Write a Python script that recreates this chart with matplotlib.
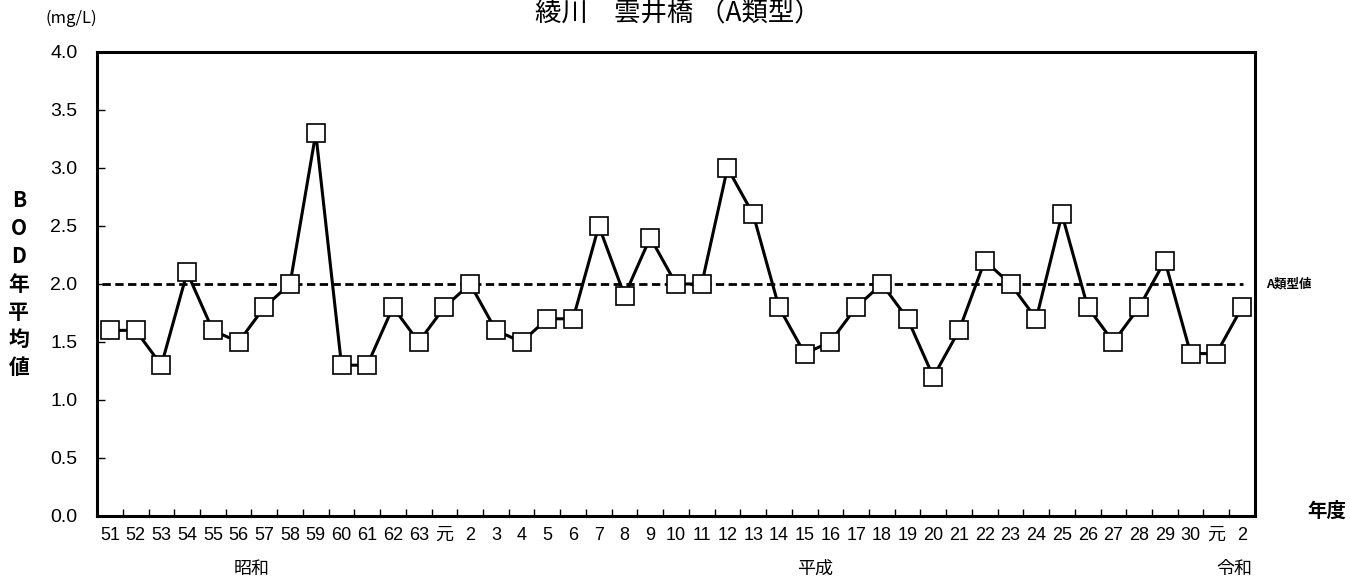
import numpy as np
import matplotlib.pyplot as plt

plt.rcParams['font.family'] = ['Liberation Sans', 'Noto Sans CJK JP']

# 年度ラベル（昭和51〜63、平成元〜30、令和元〜2）
years = ['51', '52', '53', '54', '55', '56', '57', '58', '59', '60', '61', '62', '63',
         '元', '2', '3', '4', '5', '6', '7', '8', '9', '10', '11', '12', '13', '14', '15',
         '16', '17', '18', '19', '20', '21', '22', '23', '24', '25', '26', '27', '28', '29',
         '30', '元', '2']
# BOD年平均値 (mg/L)
bod = [1.6, 1.6, 1.3, 2.1, 1.6, 1.5, 1.8, 2.0, 3.3, 1.3, 1.3, 1.8, 1.5,
       1.8, 2.0, 1.6, 1.5, 1.7, 1.7, 2.5, 1.9, 2.4, 2.0, 2.0, 3.0, 2.6, 1.8, 1.4,
       1.5, 1.8, 2.0, 1.7, 1.2, 1.6, 2.2, 2.0, 1.7, 2.6, 1.8, 1.5, 1.8, 2.2,
       1.4, 1.4, 1.8]
std_value = 2.0
eras = ['昭和', '平成', '令和']
era_pos = [5.5, 27.4, 43.7]

x = np.arange(len(years))

fig = plt.figure(figsize=(13.5, 5.86), dpi=100)
ax = fig.add_axes([0.0719, 0.1195, 0.8577, 0.7918])

ax.plot(x, bod, '-', color='black', lw=2.2, marker='s', ms=13,
        mfc='white', mec='black', mew=1.2, zorder=3)
ax.axhline(std_value, xmin=0.004, xmax=0.99, color='black', lw=2.0,
           ls=(0, (3, 1.6)), zorder=2)

ax.set_xlim(-0.5, len(years) - 0.5)
ax.set_ylim(0, 4.0)
yt = np.arange(0, 4.01, 0.5)
ax.set_yticks(yt)
ax.set_yticklabels([f'{v:.1f}' for v in yt], fontsize=14)
ax.tick_params(axis='y', direction='in', length=6, width=1, pad=14)

# 目盛は区切り、ラベルは中央
ax.set_xticks(np.arange(-0.5, len(years) - 0.5, 1.0))
ax.set_xticklabels([])
ax.set_xticks(x, minor=True)
ax.set_xticklabels(years, minor=True, fontsize=13)
ax.tick_params(axis='x', which='major', direction='in', length=5, width=1)
ax.tick_params(axis='x', which='minor', length=0, pad=8)

for s in ax.spines.values():
    s.set_linewidth(2.2)

# 元号
for name, p in zip(eras, era_pos):
    ax.text(p, -0.38, name, ha='center', va='top', fontsize=13,
            family=['Noto Sans CJK JP'])

ax.text(1.01, std_value, 'A類型値', transform=ax.get_yaxis_transform(),
        ha='left', va='center', fontsize=9, fontweight='bold',
        family=['Noto Sans CJK JP'])

fig.text(0.034, 0.968, '(mg/L)', ha='left', va='center', fontsize=12,
         family=['Noto Sans CJK JP'])
fig.text(0.502, 0.999, '綾川　雲井橋 （A類型）', ha='center', va='top',
         fontsize=19, family=['Noto Sans CJK JP'])
fig.text(0.997, 0.128, '年度', ha='right', va='center', fontsize=14,
         fontweight='bold', family=['Noto Sans CJK JP'])
fig.text(0.014, 0.515, 'B\nO\nD\n年\n平\n均\n値', ha='center', va='center',
         fontsize=15, fontweight='bold', linespacing=1.4,
         family=['Noto Sans CJK JP'])

fig.savefig('out.png', dpi=100, facecolor='white')
